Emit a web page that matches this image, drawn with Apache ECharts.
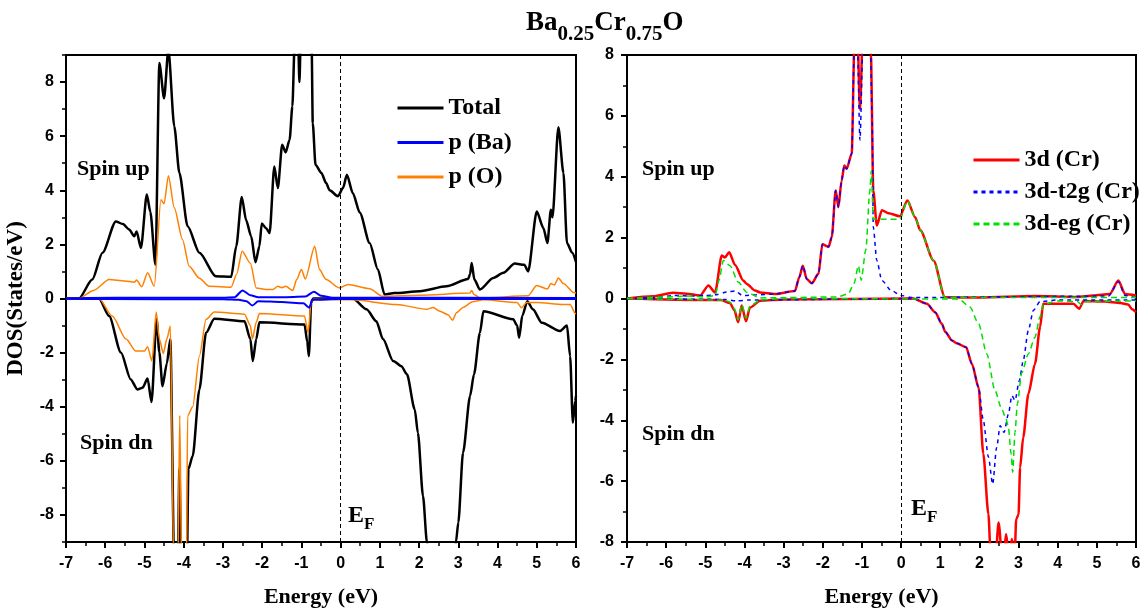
<!DOCTYPE html>
<html><head><meta charset="utf-8">
<script src="https://cdn.jsdelivr.net/npm/echarts@6/dist/echarts.min.js"></script>
<style>html,body{margin:0;padding:0;background:#fff}#c{width:1148px;height:613px}</style>
</head><body><div id="c"></div>
<script>
// ---------- data (Energy eV, DOS states/eV) ----------
const xTicks = [-7,-6,-5,-4,-3,-2,-1,0,1,2,3,4,5,6];
const yTicksLeft = [-8,-6,-4,-2,0,2,4,6,8];
const yMinorLeft = [-9,-7,-5,-3,-1,1,3,5,7,9];
const yTicksRight = [-8,-6,-4,-2,0,2,4,6,8];

const totalUp = [[-7,0],[-6.67,0],[-6.33,0.7],[-6.07,1.69],[-5.73,2.85],[-5.55,2.75],[-5.39,2.55],[-5.26,2.3],[-5.2,2.48],[-5.09,1.87],[-4.94,3.84],[-4.85,3.2],[-4.72,1.25],[-4.62,8.7],[-4.5,7.4],[-4.39,9.2],[-4.24,6.36],[-4.11,4.64],[-3.9,2.67],[-3.6,1.69],[-3.18,0.82],[-2.79,0.8],[-2.66,1.93],[-2.52,3.75],[-2.41,2.9],[-2.28,2.3],[-2.17,1.34],[-2.07,1.93],[-2.01,2.77],[-1.9,2.6],[-1.81,2.42],[-1.69,4.88],[-1.6,4.08],[-1.49,5.68],[-1.4,5.4],[-1.3,5.87],[-1.23,7.1],[-1.17,9.5],[-1.09,10],[-1.05,8.0],[-1.01,10],[-0.8,12],[-0.74,9.5],[-0.71,6.48],[-0.64,4.94],[-0.49,4.64],[-0.37,4.27],[-0.28,4.0],[-0.07,3.78],[0.06,4.08],[0.16,4.57],[0.31,3.9],[0.49,3.17],[0.74,2.05],[0.95,1.07],[1.12,0.15],[1.37,0.2],[2.02,0.27],[2.7,0.45],[3.25,0.72],[3.3,0.9],[3.34,1.31],[3.41,0.7],[3.55,0.33],[3.89,0.76],[4.15,0.95],[4.44,1.29],[4.68,1.25],[4.78,1.0],[5.0,3.22],[5.17,2.6],[5.27,2.05],[5.36,3.28],[5.4,3.0],[5.55,6.33],[5.68,4.64],[5.77,2.05],[5.9,1.7],[6.0,1.35]];
const totalDn = [[-7,0],[-6.16,0],[-5.9,-0.65],[-5.6,-2.0],[-5.35,-2.99],[-5.18,-3.36],[-5.05,-3.3],[-4.92,-2.96],[-4.82,-3.83],[-4.69,-0.77],[-4.62,-2.0],[-4.54,-3.24],[-4.43,-2.4],[-4.34,-1.5],[-4.24,-10],[-4.15,-10],[-4.11,-6.3],[-4.06,-10],[-3.92,-10],[-3.88,-6.3],[-3.77,-5.82],[-3.6,-3.36],[-3.43,-1.27],[-3.22,-0.75],[-2.45,-0.84],[-2.3,-1.5],[-2.24,-2.31],[-2.15,-1.5],[-2.07,-0.88],[-0.92,-0.96],[-0.85,-1.6],[-0.81,-2.13],[-0.75,-0.15],[-0.7,0],[0.31,0],[0.66,-0.4],[0.91,-0.84],[1.08,-1.5],[1.34,-2.31],[1.55,-2.5],[1.69,-2.8],[1.89,-4.1],[1.97,-4.96],[2.1,-7.3],[2.2,-9],[2.4,-12],[2.8,-12],[2.94,-9],[3.0,-8.28],[3.12,-5.7],[3.3,-3.6],[3.4,-2.8],[3.55,-1.27],[3.64,-0.47],[4.4,-0.77],[4.5,-1.0],[4.55,-1.45],[4.63,-0.64],[4.76,-0.1],[4.9,-0.4],[5.13,-0.9],[5.59,-1.2],[5.77,-1.0],[5.85,-2.13],[5.92,-4.59],[5.98,-3.79],[6.0,-3.6]];
const pOUp = [[-7,0],[-6.67,0],[-6.3,0.3],[-5.9,0.7],[-5.5,0.65],[-5.26,0.6],[-5.2,0.68],[-5.07,0.43],[-4.92,0.95],[-4.75,0.45],[-4.58,3.65],[-4.5,3.5],[-4.39,4.54],[-4.24,3.35],[-4.03,2.18],[-3.86,1.19],[-3.6,0.75],[-3.35,0.45],[-2.79,0.42],[-2.65,0.9],[-2.51,1.75],[-2.3,1.3],[-2.15,0.39],[-1.9,0.33],[-1.73,0.33],[-1.6,0.45],[-1.5,0.4],[-1.4,0.45],[-1.22,0.3],[-1.12,0.7],[-1.0,1.07],[-0.9,0.72],[-0.66,1.93],[-0.54,1.07],[-0.37,0.7],[-0.03,0.39],[0.19,0.52],[0.74,0.36],[1.07,0.08],[2.0,0.12],[3.3,0.2],[3.34,0.3],[3.4,0.15],[3.55,0.02],[4.78,0.1],[5.0,0.48],[5.27,0.35],[5.36,0.55],[5.45,0.5],[5.55,0.76],[5.68,0.55],[5.94,0.22],[6.0,0.2]];
const pODn = [[-7,0],[-6.16,0],[-5.82,-0.65],[-5.47,-1.5],[-5.22,-1.94],[-5.0,-1.94],[-4.92,-1.78],[-4.81,-2.31],[-4.7,-0.5],[-4.62,-1.5],[-4.52,-2.03],[-4.43,-1.5],[-4.34,-1.02],[-4.25,-10],[-4.15,-10],[-4.1,-4.32],[-4.05,-10],[-3.93,-10],[-3.9,-4.34],[-3.77,-4.0],[-3.6,-2.13],[-3.43,-0.77],[-3.22,-0.5],[-2.45,-0.58],[-2.3,-1.0],[-2.25,-1.49],[-2.15,-0.88],[-2.07,-0.55],[-0.92,-0.65],[-0.83,-1.27],[-0.75,-0.15],[-0.7,-0.03],[0.3,-0.05],[1.42,-0.22],[2.19,-0.4],[2.36,-0.33],[2.53,-0.47],[2.74,-0.6],[2.85,-0.8],[2.96,-0.52],[3.12,-0.33],[3.36,-0.12],[3.64,-0.05],[4.5,-0.15],[4.61,-0.34],[4.74,-0.15],[5.0,-0.15],[5.68,-0.22],[5.85,-0.22],[5.98,-0.55],[6,-0.55]];
const pBaUp = [[-7,0],[-6.5,0.02],[-5,0.03],[-3,0.03],[-2.7,0.05],[-2.5,0.3],[-2.3,0.12],[-2.1,0.05],[-1.5,0.05],[-0.9,0.07],[-0.68,0.25],[-0.5,0.1],[-0.2,0.03],[6,0.02]];
const pBaDn = [[-7,0],[-6,-0.02],[-3,-0.03],[-2.6,-0.05],[-2.4,-0.1],[-2.25,-0.26],[-2.1,-0.1],[-1.5,-0.13],[-0.95,-0.18],[-0.8,-0.34],[-0.72,-0.05],[0,-0.02],[6,-0.02]];

const d3Up = [[-7,0],[-6.33,0.07],[-5.82,0.19],[-5.48,0.16],[-5.13,0.1],[-4.92,0.43],[-4.75,0.2],[-4.58,1.41],[-4.5,1.35],[-4.39,1.52],[-4.24,1.1],[-4.03,0.59],[-3.94,0.48],[-3.73,0.26],[-3.6,0.2],[-3.22,0.15],[-2.71,0.25],[-2.6,0.7],[-2.51,1.08],[-2.41,0.64],[-2.28,0.5],[-2.11,0.81],[-2.01,1.78],[-1.85,1.7],[-1.77,2.02],[-1.67,3.55],[-1.6,3.0],[-1.52,3.87],[-1.45,4.37],[-1.39,4.26],[-1.26,4.76],[-1.19,8.5],[-1.12,9],[-1.05,6.2],[-0.97,9],[-0.8,9.5],[-0.77,8],[-0.71,3.55],[-0.62,2.4],[-0.49,2.9],[-0.32,2.8],[-0.03,2.7],[0.16,3.22],[0.36,2.67],[0.49,2.24],[0.83,1.25],[1.12,0.04],[2,0.03],[3.4,0.08],[4.5,0.05],[4.91,0.1],[5.33,0.15],[5.55,0.59],[5.72,0.15],[6,0.1]];
const d3Dn = [[-7,0],[-5.0,-0.05],[-4.6,-0.05],[-4.37,-0.15],[-4.26,-0.38],[-4.16,-0.78],[-4.07,-0.23],[-3.96,-0.75],[-3.86,-0.3],[-3.6,-0.07],[-3,-0.03],[0.31,0],[0.66,-0.17],[0.87,-0.45],[1.04,-0.83],[1.13,-1.1],[1.3,-1.38],[1.42,-1.47],[1.66,-1.6],[1.81,-2.15],[1.98,-2.92],[2.1,-5.1],[2.23,-7.08],[2.3,-8.8],[2.4,-8.8],[2.49,-7.36],[2.6,-8.8],[2.68,-7.74],[2.76,-8.5],[2.83,-7.9],[2.9,-8.5],[2.94,-7.25],[3.0,-7.1],[3.04,-5.55],[3.12,-4.56],[3.25,-3.14],[3.42,-2.15],[3.55,-0.94],[3.63,-0.17],[4.4,-0.17],[4.55,-0.34],[4.66,-0.08],[5.2,-0.1],[5.6,-0.15],[5.8,-0.2],[5.9,-0.35],[6.0,-0.45]];
const t2gUp = [[-7,0],[-6.3,0.03],[-5.8,0.1],[-5.3,0.08],[-5.0,0.1],[-4.75,0.12],[-4.45,0.21],[-4.24,0.25],[-4.05,0.1],[-3.7,0.12],[-3.22,0.15],[-2.71,0.25],[-2.6,0.7],[-2.51,1.08],[-2.41,0.64],[-2.28,0.5],[-2.11,0.81],[-2.01,1.78],[-1.85,1.7],[-1.77,2.02],[-1.67,3.55],[-1.6,3.0],[-1.52,3.87],[-1.45,4.37],[-1.39,4.26],[-1.26,4.76],[-1.19,8.5],[-1.12,8.5],[-1.05,5.2],[-0.97,8.5],[-0.8,9.5],[-0.74,6],[-0.71,2.35],[-0.62,1.25],[-0.49,0.59],[-0.25,0.26],[0,0.1],[0.3,0.03],[5.3,0.08],[5.55,0.55],[5.72,0.1],[6,0.02]];
const t2gDn = [[-7,0],[-4.5,-0.03],[-4.2,-0.08],[-3.9,-0.05],[0.31,0],[0.66,-0.17],[0.87,-0.45],[1.04,-0.83],[1.13,-1.1],[1.3,-1.38],[1.42,-1.47],[1.66,-1.6],[1.81,-2.15],[1.98,-2.92],[2.1,-4.0],[2.23,-5.2],[2.34,-6.1],[2.44,-4.9],[2.53,-4.18],[2.63,-4.4],[2.74,-3.8],[2.83,-3.19],[2.91,-3.35],[3.02,-2.7],[3.12,-2.04],[3.25,-1.05],[3.38,-0.39],[3.55,-0.1],[4.0,-0.05],[6,-0.05]];
const egUp = [[-7,0],[-6,0.05],[-5.5,0.08],[-5.0,0.05],[-4.75,0.1],[-4.65,0.6],[-4.54,1.25],[-4.37,1.08],[-4.16,0.54],[-3.94,0.2],[-3.6,0.02],[-1.64,0.05],[-1.35,0.15],[-1.2,0.5],[-1.09,1.08],[-1.02,0.6],[-0.9,1.6],[-0.8,3.5],[-0.76,4.2],[-0.71,2.6],[-0.49,2.6],[-0.03,2.6],[0.16,3.2],[0.36,2.67],[0.49,2.24],[0.83,1.25],[1.12,0.03],[6,0.03]];
const egDn = [[-7,0],[-4.5,-0.05],[-4.37,-0.12],[-4.26,-0.33],[-4.16,-0.7],[-4.07,-0.2],[-3.96,-0.65],[-3.86,-0.25],[-3.6,-0.05],[-3,0],[1.4,-0.02],[1.5,-0.05],[1.76,-0.28],[1.98,-0.83],[2.19,-1.82],[2.4,-3.03],[2.57,-3.63],[2.68,-3.95],[2.74,-4.23],[2.81,-5.1],[2.85,-5.71],[2.91,-4.4],[2.97,-3.46],[3.08,-2.45],[3.25,-1.82],[3.42,-1.27],[3.55,-0.6],[3.63,-0.2],[4.0,-0.08],[4.5,-0.1],[4.6,-0.2],[4.7,-0.1],[6,-0.08]];

// ---------- chart ----------
const SERIF = 'Liberation Serif, Times New Roman, serif';
const SANS = 'Liberation Sans, Arial, sans-serif';
const tickLabel = {color:'#000', fontFamily:SANS, fontWeight:'bold', fontSize:16};
const axLine = {onZero:false, lineStyle:{color:'#000', width:2}};

function xAx(g){
  return {gridIndex:g, type:'value', min:-7, max:6, interval:1,
    axisLine:axLine,
    axisTick:{length:6, lineStyle:{color:'#000', width:2}},
    minorTick:{show:true, splitNumber:2, length:4, lineStyle:{color:'#000', width:1.5}},
    splitLine:{show:false}, minorSplitLine:{show:false},
    axisLabel:Object.assign({margin:14, formatter:v=>String(v)}, tickLabel),
    name:'Energy (eV)', nameLocation:'middle', nameGap:44,
    nameTextStyle:{color:'#000', fontFamily:SERIF, fontWeight:'bold', fontSize:22}};
}
function line(name, data, color, width, xi, dash, z){
  return {name, type:'line', data, xAxisIndex:xi, yAxisIndex:xi===0?0:2,
    symbol:'none', showSymbol:false, smooth:0.25, smoothMonotone:'x', clip:true, z:z||2,
    lineStyle:{color, width, type:dash||'solid'}, itemStyle:{color}};
}
const vline = {silent:true, symbol:'none', label:{show:false},
  lineStyle:{type:[4,3], color:'#000', width:1}, data:[{xAxis:0}]};

const series = [
  line('Total', totalUp, '#000000', 2.5, 0),
  line('Total', totalDn, '#000000', 2.5, 0),
  line('p (O)', pOUp, '#ff8000', 1.5, 0, null, 3),
  line('p (O)', pODn, '#ff8000', 1.5, 0, null, 3),
  line('p (Ba)', pBaUp, '#0000ff', 2, 0, null, 4),
  line('p (Ba)', pBaDn, '#0000ff', 2, 0, null, 4),
  line('3d (Cr)', d3Up, '#ff0000', 2.5, 1),
  line('3d (Cr)', d3Dn, '#ff0000', 2.5, 1),
  line('3d-t2g (Cr)', t2gUp, '#0000ff', 1.5, 1, [4,4], 3),
  line('3d-t2g (Cr)', t2gDn, '#0000ff', 1.5, 1, [4,4], 3),
  line('3d-eg (Cr)', egUp, '#00e000', 1.5, 1, [6,4], 4),
  line('3d-eg (Cr)', egDn, '#00e000', 1.5, 1, [6,4], 4)
];
series[0].markLine = vline;
series[6].markLine = vline;

const legendText = {color:'#000', fontFamily:SERIF, fontWeight:'bold', fontSize:24, lineHeight:24};
const bigText = {fontFamily:SERIF, fontWeight:'bold', fontSize:22, fill:'#000'};
function efText(x, y){
  return {type:'text', left:x, top:y, silent:true, style:{
    text:'{e|E}{f|F}', rich:{
      e:{fontFamily:SERIF, fontWeight:'bold', fontSize:24, lineHeight:24, verticalAlign:'top'},
      f:{fontFamily:SERIF, fontWeight:'bold', fontSize:17, lineHeight:17, padding:[12,0,0,0], verticalAlign:'top'}
    }, fill:'#000'}};
}

const option = {
  backgroundColor:'#fff',
  animation:false,
  title:{text:'{m|Ba}{s|0.25}{m|Cr}{s|0.75}{m|O}', left:521, top:5,
    textStyle:{rich:{
      m:{fontFamily:SERIF, fontWeight:'bold', fontSize:27, lineHeight:27, color:'#000', verticalAlign:'top'},
      s:{fontFamily:SERIF, fontWeight:'bold', fontSize:21, lineHeight:21, color:'#000', padding:[14,0,0,0], verticalAlign:'top'}
    }}},
  grid:[
    {left:66, top:55, width:510, height:488, show:true, borderColor:'#000', borderWidth:2, backgroundColor:'transparent'},
    {left:627, top:55, width:509, height:487, show:true, borderColor:'#000', borderWidth:2, backgroundColor:'transparent'}
  ],
  xAxis:[xAx(0), xAx(1)],
  yAxis:[
    {gridIndex:0, type:'value', min:-9, max:9, interval:1, position:'left',
      axisLine:axLine,
      axisTick:{length:6, customValues:yTicksLeft, lineStyle:{color:'#000', width:2}},
      axisLabel:Object.assign({margin:12, customValues:yTicksLeft, formatter:v=>String(v)}, tickLabel),
      splitLine:{show:false},
      name:'DOS(States/eV)', nameLocation:'middle', nameGap:38,
      nameTextStyle:{color:'#000', fontFamily:SERIF, fontWeight:'bold', fontSize:23}},
    {gridIndex:0, type:'value', min:-9, max:9, interval:1, position:'left', offset:0,
      axisLine:{show:false, onZero:false},
      axisTick:{length:4, customValues:yMinorLeft, lineStyle:{color:'#000', width:1.5}},
      axisLabel:{show:false}, splitLine:{show:false}},
    {gridIndex:1, type:'value', min:-8, max:8, interval:2, position:'left',
      axisLine:axLine,
      axisTick:{length:6, lineStyle:{color:'#000', width:2}},
      minorTick:{show:true, splitNumber:2, length:4, lineStyle:{color:'#000', width:1.5}},
      axisLabel:Object.assign({margin:13, formatter:v=>String(v)}, tickLabel),
      splitLine:{show:false}, minorSplitLine:{show:false}}
  ],
  legend:[
    {data:['Total','p (Ba)','p (O)'], orient:'vertical', left:391, top:91, itemWidth:46, itemHeight:14, itemGap:10.5, itemStyle:{opacity:0}, lineStyle:{width:3}, textStyle:legendText, selectedMode:false},
    {data:['3d (Cr)','3d-t2g (Cr)','3d-eg (Cr)'], orient:'vertical', left:967, top:143, itemWidth:46, itemHeight:14, itemGap:8, itemStyle:{opacity:0}, lineStyle:{width:3}, textStyle:legendText, selectedMode:false}
  ],
  graphic:[
    {type:'text', left:77, top:158, silent:true, style:Object.assign({text:'Spin up'}, bigText)},
    {type:'text', left:80, top:432, silent:true, style:Object.assign({text:'Spin dn'}, bigText)},
    {type:'text', left:642, top:158, silent:true, style:Object.assign({text:'Spin up'}, bigText)},
    {type:'text', left:642, top:423, silent:true, style:Object.assign({text:'Spin dn'}, bigText)},
    efText(348, 504),
    efText(911, 497)
  ],
  series
};
const chart = echarts.init(document.getElementById('c'), null, {renderer:'canvas'});
chart.setOption(option);
</script></body></html>
